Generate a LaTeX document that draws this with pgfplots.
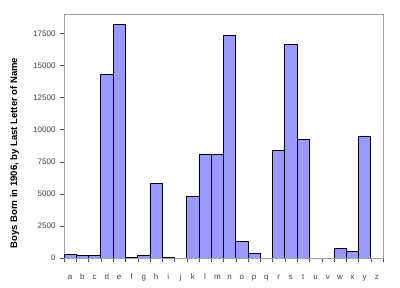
\documentclass[border=0pt]{standalone}
\usepackage{fontspec}
\setmainfont{Liberation Sans}
\usepackage{pgfplots}
\pgfplotsset{compat=1.18}
\definecolor{barfill}{HTML}{9999FF}
\definecolor{framegray}{HTML}{A0A0A0}
\begin{document}
\begin{tikzpicture}
\path[use as bounding box] (0,0) rectangle (400bp,288bp);
\begin{axis}[
  at={(64bp,30bp)}, anchor=south west,
  scale only axis, width=319bp, height=244bp,
  xmin=-0.5, xmax=25.5, ymin=0, ymax=19000,
  axis line style={framegray},
  xtick={0,...,25},
  xticklabels={a,b,c,d,e,f,g,h,i,j,k,l,m,n,o,p,q,r,s,t,u,v,w,x,y,z},
  major x tick style={draw=none},
  minor xtick={-0.5,0.5,...,25.5},
  minor x tick style={black!70},
  minor tick length=4bp,
  xtick pos=bottom, ytick pos=left, tick align=outside,
  ytick={0,2500,...,17500},
  scaled y ticks=false,
  major tick length=4bp,
  y tick style={black!70},
  /pgf/number format/assume math mode=true,
  /pgf/number format/1000 sep={},
  ticklabel style={font=\fontsize{8bp}{9bp}\selectfont, text=black!75},
  xticklabel style={anchor=base, yshift=-17bp, text height=6bp, text depth=0bp},
  yticklabel style={xshift=-1bp},
  ylabel={Boys Born in 1906, by Last Letter of Name},
  ylabel style={font=\bfseries\fontsize{9.5bp}{11bp}\selectfont, at={(axis description cs:-0.155,0.43)}, anchor=center},
]
\addplot[ybar, bar width=1, fill=barfill, draw=black, line width=0.7bp] coordinates {
(0,300) (1,200) (2,200) (3,14300) (4,18200) (5,50) (6,200) (7,5800)
(8,50) (9,0) (10,4800) (11,8100) (12,8050) (13,17300) (14,1300) (15,350)
(16,0) (17,8400) (18,16600) (19,9250) (20,0) (21,0) (22,750) (23,500)
(24,9500) (25,0)
};
\end{axis}
\end{tikzpicture}
\end{document}
